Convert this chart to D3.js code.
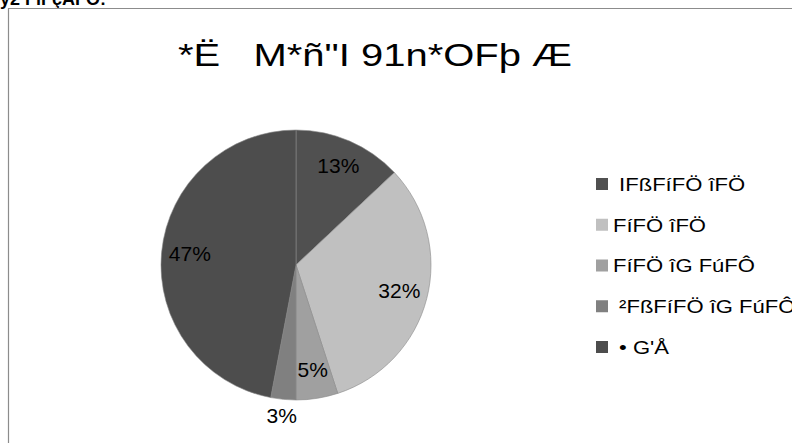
<!DOCTYPE html>
<html>
<head>
<meta charset="utf-8">
<script src="https://cdn.jsdelivr.net/npm/d3@7"></script>
<style>
  body { margin: 0; background: #fff; }
  svg { display: block; font-family: "Liberation Sans", Arial, sans-serif; }
</style>
</head>
<body>
<div id="svg"></div>
<script>
// chart data
let pageHeading = "ÿ2 FïFçÄFÖ:";
let chartTitle = "*Ë   M*ñ\"I 91n*OFþ Æ";
let categories = [" IFßFíFÖ îFÖ", "FíFÖ îFÖ", "FíFÖ îG FúFÔ", " ²FßFíFÖ îG FúFÔ", " • G'Å"];
let values = [13, 32, 5, 3, 47];
let colors = ["#505050", "#c0c0c0", "#a0a0a0", "#808080", "#4d4d4d"];

let width = 792,
    height = 443;

let svg = d3.select("#svg")
  .append("svg")
  .attr("width", width)
  .attr("height", height);

// heading cut off at the top of the page
svg.append("text")
  .attr("x", 0)
  .attr("y", 5)
  .attr("font-size", 18)
  .attr("font-weight", "bold")
  .attr("fill", "#000")
  .text(pageHeading);

// chart frame (only left and top edges are on screen)
svg.append("path")
  .attr("d", "M8.5," + height + "V8.5H" + width)
  .attr("fill", "none")
  .attr("stroke", "#8c8c8c")
  .attr("stroke-width", 1.2);

// title, the original face is wider than Arial so stretch it
svg.append("text")
  .attr("x", 178)
  .attr("y", 66)
  .attr("font-size", 31)
  .attr("textLength", 394)
  .attr("lengthAdjust", "spacingAndGlyphs")
  .style("white-space", "pre")
  .text(chartTitle);

// pie
let cx = 296, cy = 265, radius = 135;
let total = d3.sum(values);

let pie = d3.pie().sort(null).value(d => d);
let arcs = pie(values);
let arc = d3.arc().innerRadius(0).outerRadius(radius);
let labelArc = d3.arc().innerRadius(radius * 0.79).outerRadius(radius * 0.79);
let outerLabelArc = d3.arc().innerRadius(radius * 1.13).outerRadius(radius * 1.13);

let g = svg.append("g")
  .attr("transform", "translate(" + cx + "," + cy + ")");

g.selectAll(".slice")
  .data(arcs)
  .enter().append("path")
  .attr("class", "slice")
  .attr("d", arc)
  .attr("fill", (d, i) => colors[i])
  .attr("stroke", "#8a8a8a")
  .attr("stroke-width", 0.6);

g.selectAll(".lbl")
  .data(arcs)
  .enter().append("text")
  .attr("class", "lbl")
  .attr("transform", function(d) {
    let small = (d.value / total) < 0.04;
    let c = small ? outerLabelArc.centroid(d) : labelArc.centroid(d);
    return "translate(" + c[0] + "," + c[1] + ")";
  })
  .attr("text-anchor", "middle")
  .attr("dy", "0.3em")
  .attr("font-size", 21)
  .attr("fill", "#000")
  .text(d => Math.round(d.value / total * 100) + "%");

// legend
let legendY = d3.scalePoint()
  .domain(categories)
  .range([184, 347]);

let legend = svg.append("g");
let items = legend.selectAll(".item")
  .data(categories)
  .enter().append("g")
  .attr("class", "item")
  .attr("transform", d => "translate(596," + legendY(d) + ")");

items.append("rect")
  .attr("x", 0)
  .attr("y", -6)
  .attr("width", 12)
  .attr("height", 12)
  .attr("fill", (d, i) => colors[i]);

items.append("text")
  .attr("transform", "translate(17,0) scale(1.16,1)")
  .attr("dy", "0.36em")
  .attr("font-size", 19)
  .style("white-space", "pre")
  .text(d => d);
</script>
</body>
</html>
